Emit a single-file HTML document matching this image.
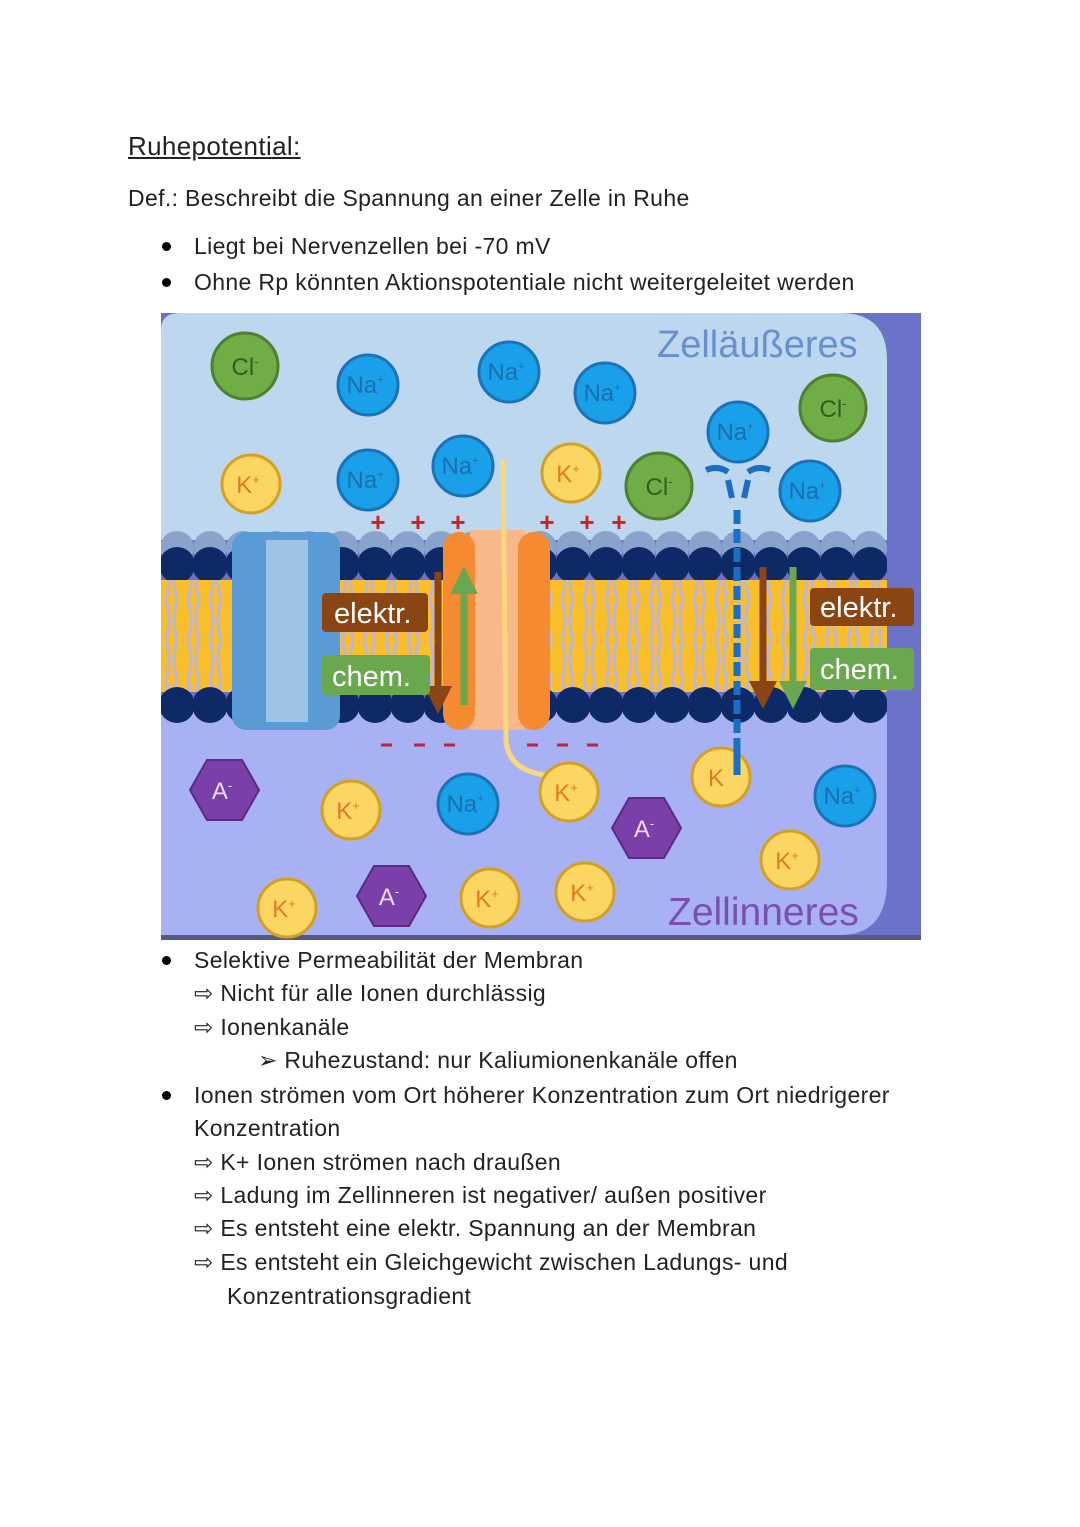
<!DOCTYPE html>
<html><head><meta charset="utf-8"><style>
body{margin:0;background:#fff;width:1080px;height:1527px;position:relative;font-family:"Liberation Sans",sans-serif;color:#222;}
.t{position:absolute;font-size:23px;letter-spacing:0.35px;white-space:nowrap;}
.b{position:absolute;width:9px;height:9px;border-radius:50%;background:#000;}
svg{position:absolute;left:0;top:0;}
</style></head><body>
<div class="t" style="left:128px;top:131px;font-size:26px;text-decoration:underline;">Ruhepotential:</div>
<div class="t" style="left:128px;top:185px;">Def.: Beschreibt die Spannung an einer Zelle in Ruhe</div>
<div class="b" style="left:162px;top:242px"></div><div class="t" style="left:194px;top:233px;">Liegt bei Nervenzellen bei -70 mV</div>
<div class="b" style="left:162px;top:278px"></div><div class="t" style="left:194px;top:269px;">Ohne Rp könnten Aktionspotentiale nicht weitergeleitet werden</div>

<svg width="1080" height="1527" viewBox="0 0 1080 1527" font-family="Liberation Sans, sans-serif">
<defs>
<pattern id="tl" x="161" y="0" width="22" height="40" patternUnits="userSpaceOnUse">
<rect width="22" height="40" fill="#f8bf2a"/><path d="M5 0 Q11 20 5 40 M16 0 Q10 20 16 40" stroke="#b9b3e8" stroke-width="3" fill="none"/>
</pattern>
<pattern id="h1" x="161" y="520" width="33" height="60" patternUnits="userSpaceOnUse"><circle cx="16" cy="28" r="17" fill="#8aa3cc"/><circle cx="16" cy="45" r="18" fill="#0d2a66"/></pattern>
<pattern id="h2" x="161" y="680" width="33" height="45" patternUnits="userSpaceOnUse"><circle cx="16" cy="25" r="18" fill="#0d2a66"/></pattern>
<marker id="ab" markerWidth="4" markerHeight="4" refX="2" refY="2" orient="auto"><path d="M0 0L4 2L0 4Z" fill="#8b4513"/></marker>
<marker id="ag" markerWidth="4" markerHeight="4" refX="2" refY="2" orient="auto"><path d="M0 0L4 2L0 4Z" fill="#6aa84f"/></marker>
</defs>
<rect x="161" y="313" width="760" height="627" fill="#6b72c8"/>
<path d="M161 540 L161 330 Q161 313 180 313 L840 313 Q887 313 887 360 L887 540 Z" fill="#bdd7ee"/>
<path d="M161 700 L887 700 L887 880 Q887 935 840 935 L161 935 Z" fill="#a9b1f5"/>
<rect x="161" y="935" width="760" height="5" fill="#555a80"/>
<rect x="161" y="580" width="726" height="112" fill="url(#tl)"/>
<rect x="161" y="530" width="726" height="52" fill="url(#h1)"/>
<rect x="161" y="685" width="726" height="40" fill="url(#h2)"/>
<!-- blue channel -->
<rect x="232" y="532" width="108" height="198" rx="14" fill="#5b9bd5"/>
<rect x="266" y="540" width="42" height="182" fill="#9dc3e6"/>
<!-- orange channel -->
<rect x="470" y="530" width="55" height="200" fill="#f8b88a"/>
<rect x="443" y="532" width="32" height="198" rx="16" fill="#f58a30"/>
<rect x="518" y="532" width="32" height="198" rx="16" fill="#f58a30"/>
<path d="M503 460 L506 740 Q508 770 545 775" stroke="#f9d77e" stroke-width="5" fill="none"/>
<line x1="438" y1="572" x2="438" y2="700" stroke="#8b4513" stroke-width="7" marker-end="url(#ab)"/>
<line x1="464" y1="705" x2="464" y2="580" stroke="#6aa84f" stroke-width="7" marker-end="url(#ag)"/>
<rect x="322" y="593" width="106" height="39" rx="4" fill="#8b4513"/>
<text x="334" y="623" font-size="29" fill="#fff">elektr.</text>
<rect x="322" y="655" width="108" height="40" rx="4" fill="#6aa84f"/>
<text x="332" y="686" font-size="29" fill="#fff">chem.</text>
<!-- right channel -->
<line x1="737" y1="510" x2="737" y2="775" stroke="#1a6fc4" stroke-width="7" stroke-dasharray="14 5"/>
<path d="M706 470 Q718 465 728 472 M748 472 Q758 465 770 470 M728 480 L732 498 M748 480 L744 498" stroke="#1a6fc4" stroke-width="6" fill="none"/>
<line x1="763" y1="567" x2="763" y2="695" stroke="#8b4513" stroke-width="7" marker-end="url(#ab)"/>
<line x1="793" y1="567" x2="793" y2="695" stroke="#6aa84f" stroke-width="7" marker-end="url(#ag)"/>
<rect x="810" y="588" width="104" height="38" rx="4" fill="#8b4513"/>
<text x="820" y="617" font-size="29" fill="#fff">elektr.</text>
<rect x="810" y="648" width="104" height="42" rx="4" fill="#6aa84f"/>
<text x="820" y="679" font-size="29" fill="#fff">chem.</text>
<!-- plus/minus -->
<g fill="#d02020" font-size="26" font-weight="bold" text-anchor="middle">
<text x="378" y="531">+</text><text x="418" y="531">+</text><text x="458" y="531">+</text>
<text x="547" y="531">+</text><text x="587" y="531">+</text><text x="619" y="531">+</text>
</g>
<g stroke="#c02040" stroke-width="3">
<line x1="381" y1="745" x2="392" y2="745"/><line x1="414" y1="745" x2="425" y2="745"/><line x1="444" y1="745" x2="455" y2="745"/>
<line x1="527" y1="745" x2="538" y2="745"/><line x1="557" y1="745" x2="568" y2="745"/><line x1="587" y1="745" x2="598" y2="745"/>
</g>
<!-- ions -->
<g font-size="24" text-anchor="middle">
<g fill="#70ad47" stroke="#4f7f30" stroke-width="3">
<circle cx="245" cy="366" r="33"/><circle cx="659" cy="486" r="33"/><circle cx="833" cy="408" r="33"/></g>
<g fill="#2f5f1f"><text x="245" y="375">Cl<tspan font-size="13" dy="-9">-</tspan></text><text x="659" y="495">Cl<tspan font-size="13" dy="-9">-</tspan></text><text x="833" y="417">Cl<tspan font-size="13" dy="-9">-</tspan></text></g>
<g fill="#1aa0e8" stroke="#1a72b8" stroke-width="3">
<circle cx="368" cy="385" r="30"/><circle cx="509" cy="372" r="30"/><circle cx="605" cy="393" r="30"/><circle cx="738" cy="432" r="30"/><circle cx="368" cy="480" r="30"/><circle cx="463" cy="466" r="30"/><circle cx="810" cy="491" r="30"/><circle cx="468" cy="804" r="30"/><circle cx="845" cy="796" r="30"/></g>
<g fill="#1a6fb0">
<text x="365" y="393">Na<tspan font-size="11" dy="-10">+</tspan></text><text x="506" y="380">Na<tspan font-size="11" dy="-10">+</tspan></text><text x="602" y="401">Na<tspan font-size="11" dy="-10">+</tspan></text><text x="735" y="440">Na<tspan font-size="11" dy="-10">+</tspan></text><text x="365" y="488">Na<tspan font-size="11" dy="-10">+</tspan></text><text x="460" y="474">Na<tspan font-size="11" dy="-10">+</tspan></text><text x="807" y="499">Na<tspan font-size="11" dy="-10">+</tspan></text><text x="465" y="812">Na<tspan font-size="11" dy="-10">+</tspan></text><text x="842" y="804">Na<tspan font-size="11" dy="-10">+</tspan></text></g>
<g fill="#fbd662" stroke="#d4a020" stroke-width="3">
<circle cx="251" cy="484" r="29"/><circle cx="571" cy="473" r="29"/><circle cx="351" cy="810" r="29"/><circle cx="569" cy="792" r="29"/><circle cx="721" cy="777" r="29"/><circle cx="790" cy="860" r="29"/><circle cx="287" cy="908" r="29"/><circle cx="490" cy="898" r="29"/><circle cx="585" cy="892" r="29"/></g>
<g fill="#e07a28">
<text x="248" y="493">K<tspan font-size="13" dy="-9">+</tspan></text><text x="568" y="482">K<tspan font-size="13" dy="-9">+</tspan></text><text x="348" y="819">K<tspan font-size="13" dy="-9">+</tspan></text><text x="566" y="801">K<tspan font-size="13" dy="-9">+</tspan></text><text x="716" y="786">K</text><text x="787" y="869">K<tspan font-size="13" dy="-9">+</tspan></text><text x="284" y="917">K<tspan font-size="13" dy="-9">+</tspan></text><text x="487" y="907">K<tspan font-size="13" dy="-9">+</tspan></text><text x="582" y="901">K<tspan font-size="13" dy="-9">+</tspan></text></g>
<line x1="737" y1="740" x2="737" y2="775" stroke="#1a6fc4" stroke-width="7"/>
<g fill="#7a3fa8" stroke="#5a2a88" stroke-width="2">
<polygon points="190,790 207,760 242,760 259,790 242,820 207,820"/>
<polygon points="612,828 629,798 664,798 681,828 664,858 629,858"/>
<polygon points="357,896 374,866 409,866 426,896 409,926 374,926"/></g>
<g fill="#f0d8ff"><text x="222" y="799">A<tspan font-size="13" dy="-9">-</tspan></text><text x="644" y="837">A<tspan font-size="13" dy="-9">-</tspan></text><text x="389" y="905">A<tspan font-size="13" dy="-9">-</tspan></text></g>
</g>
<text x="657" y="357" font-size="38" fill="#6a8fd0">Zelläußeres</text>
<text x="668" y="925" font-size="39" fill="#7a4fb0">Zellinneres</text>
</svg>

<div class="b" style="left:162px;top:956px"></div><div class="t" style="left:194px;top:947px;">Selektive Permeabilität der Membran</div>
<div class="t" style="left:194px;top:980px;">⇨ Nicht für alle Ionen durchlässig</div>
<div class="t" style="left:194px;top:1014px;">⇨ Ionenkanäle</div>
<div class="t" style="left:258px;top:1047px;">➢ Ruhezustand: nur Kaliumionenkanäle offen</div>
<div class="b" style="left:162px;top:1091px"></div><div class="t" style="left:194px;top:1082px;">Ionen strömen vom Ort höherer Konzentration zum Ort niedrigerer</div>
<div class="t" style="left:194px;top:1115px;">Konzentration</div>
<div class="t" style="left:194px;top:1149px;">⇨ K+ Ionen strömen nach draußen</div>
<div class="t" style="left:194px;top:1182px;">⇨ Ladung im Zellinneren ist negativer/ außen positiver</div>
<div class="t" style="left:194px;top:1215px;">⇨ Es entsteht eine elektr. Spannung an der Membran</div>
<div class="t" style="left:194px;top:1249px;">⇨ Es entsteht ein Gleichgewicht zwischen Ladungs- und</div>
<div class="t" style="left:227px;top:1283px;">Konzentrationsgradient</div>
</body></html>
